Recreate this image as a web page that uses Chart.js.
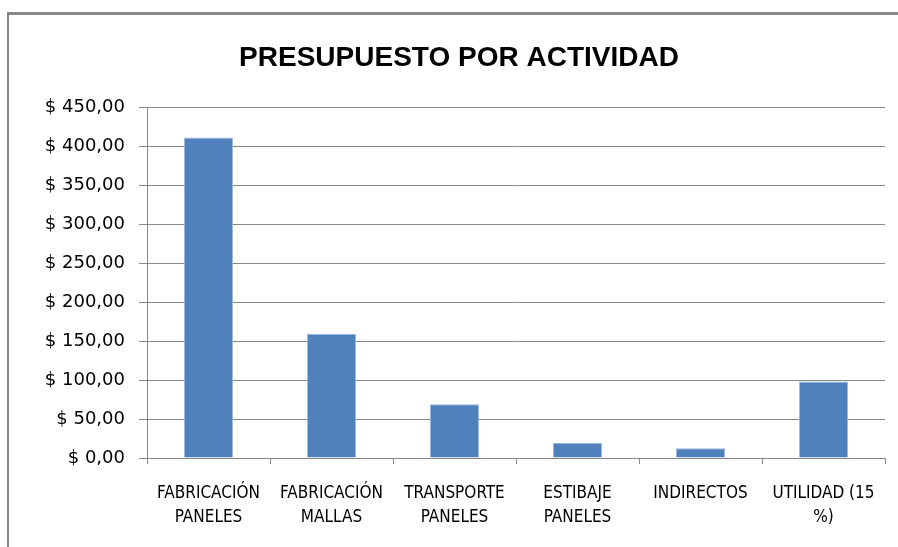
<!DOCTYPE html>
<html>
<head>
<meta charset="utf-8">
<title>Presupuesto por actividad</title>
<script src="https://cdn.jsdelivr.net/npm/chart.js@4/dist/chart.umd.min.js"></script>
<style>
  body { margin: 0; background: #fff; overflow: hidden; }
  .frame {
    position: absolute; left: 7px; top: 12px; width: 1000px; height: 700px;
    border-left: 2px solid #888; border-top: 3px solid #888;
  }
  #chart { position: absolute; left: 0; top: 0; }
</style>
</head>
<body>
<div class="frame"></div>
<canvas id="chart" width="898" height="547"></canvas>
<script>
// datos
let actividades = [
    ['FABRICACIÓN', 'PANELES'],
    ['FABRICACIÓN', 'MALLAS'],
    ['TRANSPORTE', 'PANELES'],
    ['ESTIBAJE', 'PANELES'],
    ['INDIRECTOS'],
    ['UTILIDAD (15', '%)']
];
let presupuesto = [411, 159, 69, 19.5, 12.5, 98];
let yMin = 0;
let yMax = 450;
let yStep = 50;

function formatoPesos(v) {
    return '$ ' + v.toFixed(2).replace('.', ',');
}

let ctx = document.getElementById('chart');

let myChart = new Chart(ctx, {
    type: 'bar',
    data: {
        labels: actividades,
        datasets: [{
            label: 'Presupuesto',
            data: presupuesto,
            backgroundColor: '#4F81BD',
            borderColor: '#9DB8DC',
            borderWidth: 1,
            categoryPercentage: 1,
            barPercentage: 0.4
        }]
    },
    options: {
        responsive: false,
        animation: false,
        layout: {
            padding: { left: 33, right: 13, top: 0, bottom: 0 }
        },
        plugins: {
            legend: { display: false },
            tooltip: { enabled: false },
            title: {
                display: true,
                text: 'PRESUPUESTO POR ACTIVIDAD',
                color: '#000',
                font: { family: "'Liberation Sans', Arial, sans-serif", size: 28, weight: 'bold', lineHeight: 1.2 },
                padding: { top: 41, bottom: 32.4 }
            }
        },
        scales: {
            x: {
                afterFit: function (scale) { scale.height = 89; },
                grid: {
                    drawOnChartArea: false,
                    drawTicks: true,
                    tickLength: 6,
                    color: '#888',
                    offset: true
                },
                border: { display: true, color: '#888' },
                ticks: {
                    color: '#000',
                    padding: 18,
                    maxRotation: 0,
                    autoSkip: false,
                    font: { family: "'Liberation Sans Narrow', 'DejaVu Sans Condensed', sans-serif", size: 17, lineHeight: 1.4 }
                }
            },
            y: {
                min: yMin,
                max: yMax,
                afterFit: function (scale) { scale.width = 114; },
                grid: {
                    color: '#888',
                    lineWidth: 1,
                    drawTicks: true,
                    tickLength: 8
                },
                border: { display: true, color: '#888' },
                ticks: {
                    stepSize: yStep,
                    color: '#000',
                    padding: 14,
                    font: { family: "'DejaVu Sans', sans-serif", size: 18 },
                    callback: function (value) { return formatoPesos(value); }
                }
            }
        }
    }
});
</script>
</body>
</html>
